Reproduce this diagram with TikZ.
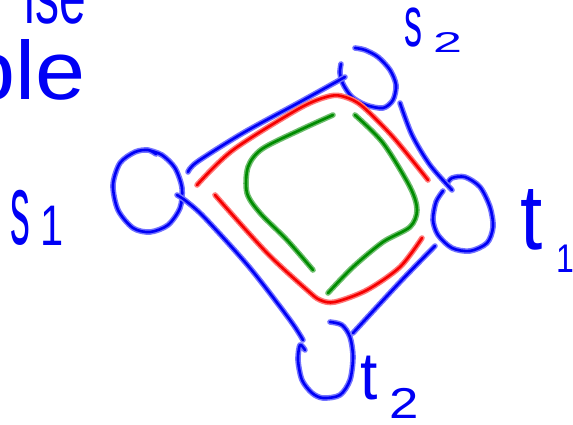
\documentclass[tikz,border=0pt]{standalone}
\usepackage{fontspec}
\setmainfont{Liberation Sans}
\definecolor{bcore}{RGB}{0,0,245}
\definecolor{bhalo}{RGB}{115,115,255}
\definecolor{rcore}{RGB}{245,0,0}
\definecolor{rhalo}{RGB}{255,120,120}
\definecolor{gcore}{RGB}{0,140,0}
\definecolor{ghalo}{RGB}{110,190,110}
\tikzset{
  bstroke/.style={draw=bcore, line width=2.6pt, line cap=round, line join=round,
    preaction={draw=bhalo, line width=5.6pt, line cap=round, line join=round}},
  rstroke/.style={draw=rcore, line width=2.6pt, line cap=round, line join=round,
    preaction={draw=rhalo, line width=5.6pt, line cap=round, line join=round}},
  gstroke/.style={draw=gcore, line width=2.6pt, line cap=round, line join=round,
    preaction={draw=ghalo, line width=5.6pt, line cap=round, line join=round}},
  hand/.style={text=bcore, inner sep=0pt, outer sep=0pt}
}
\newcommand\hw[4]{\scalebox{#1}[#2]{\fontsize{#3}{#3}\selectfont #4}}
\begin{document}
\begin{tikzpicture}[x=1pt,y=-1pt]
\useasboundingbox (0,0) rectangle (573,425);
\clip (0,0) rectangle (573,425);
% cut-off words at top left
\node[hand, anchor=base east] (wise) at (86,24) {\hw{0.8}{1.3}{60}{ise}};
\node[hand, anchor=base east] (ble) at (86,100) {\hw{1.25}{1.15}{72}{ble}};
% terminals
\draw[bstroke] plot[smooth] coordinates {(156,154) (148,150) (135,152) (120,163) (113,185) (118,210) (133,228) (150,232) (168,225) (180,208) (182,188) (175,168) (162,155) (148,150)};
\draw[bstroke] plot[smooth] coordinates {(341,64) (340,73) (343,84) (352,97) (366,105) (383,108) (393,100) (396,85) (390,70) (378,57) (365,50) (355,48)};
\draw[bstroke] plot[smooth] coordinates {(443,191) (436,202) (433,220) (438,235) (452,248) (470,251) (487,243) (493,227) (490,207) (480,187) (465,177) (452,178) (447,184)};
\draw[bstroke] plot[smooth] coordinates {(330,322) (342,325) (350,337) (353,357) (350,380) (340,395) (323,398) (312,393) (302,380) (298,360) (300,345) (305,350)};
% blue connectors
\draw[bstroke] plot[smooth] coordinates {(188,172) (197,162) (243,133) (300,102) (345,77)};
\draw[bstroke] plot[smooth] coordinates {(177,195) (186,201) (205,218) (250,268) (290,320) (303,340)};
\draw[bstroke] plot[smooth] coordinates {(400,103) (412,135) (430,165) (452,190)};
\draw[bstroke] plot[smooth] coordinates {(435,246) (400,282) (353,333)};
% red path
\draw[rstroke] plot[smooth] coordinates {(197,185) (233,150) (300,108) (330,96) (345,97) (362,106) (393,137) (428,180)};
\draw[rstroke] plot[smooth] coordinates {(215,195) (267,253) (307,290) (320,300) (335,302) (367,290) (400,267) (422,238)};
% green path
\draw[gstroke] plot[smooth] coordinates {(333,115) (300,130) (262,149) (248,167) (247,193) (260,213) (287,240) (313,270)};
\draw[gstroke] plot[smooth] coordinates {(355,115) (383,143) (410,187) (417,210) (410,227) (383,242) (353,267) (328,293)};
% labels
\node[hand, anchor=south west] (s1s) at (10,245) {\hw{0.9}{2.3}{44}{s}};
\node[hand, anchor=south west] (s1i) at (40,245) {\hw{0.8}{1.1}{52}{1}};
\node[hand, anchor=south west] (s2s) at (404,47) {\hw{0.9}{1.8}{40}{s}};
\node[hand, anchor=south west] (s2i) at (433,53) {\hw{1}{0.55}{52}{2}};
\node[hand, anchor=south west] (t1t) at (520,250) {\hw{1.25}{1.45}{64}{t}};
\node[hand, anchor=south west] (t1i) at (556,272) {\hw{0.8}{1}{40}{1}};
\node[hand, anchor=south west] (t2t) at (360,400) {\hw{1.3}{1.4}{48}{t}};
\node[hand, anchor=south west] (t2i) at (389,418) {\hw{1.1}{0.9}{48}{2}};
\end{tikzpicture}
\end{document}
